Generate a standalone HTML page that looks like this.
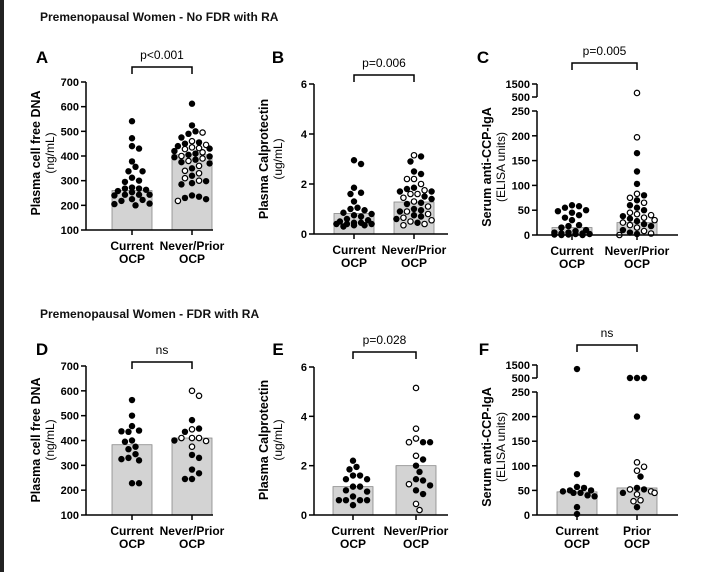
<!DOCTYPE html>
<html><head><meta charset="utf-8"><style>
html,body{margin:0;padding:0;background:#fff;}
svg{display:block;font-family:"Liberation Sans",Arial,sans-serif;}
</style></head><body>
<svg id="fig" width="705" height="572" viewBox="0 0 705 572">
<rect x="0" y="0" width="705" height="572" fill="#fff"/>
<rect x="0" y="0" width="4" height="572" fill="#222"/>
<text x="40" y="21" font-size="12" font-weight="bold" fill="#111">Premenopausal Women - No FDR with RA</text>
<text x="40" y="318" font-size="12" font-weight="bold" fill="#111">Premenopausal Women - FDR with RA</text>
</svg>
<script>
// ---- data ----
const catsA = ["Current|OCP","Never/Prior|OCP"];
const catsF = ["Current|OCP","Prior|OCP"];
const ticksDNA = [100,200,300,400,500,600,700];
const ticksCal = [0,2,4,6];
const ticksCCP = [0,50,100,150,200,250];
const ticksCCPTop = [500,1500];

const aCurBar = 260, aNevBar = 405;
const aCur = [541,472,440,430,378,356,338,338,312,300,295,272,268,268,263,258,253,243,243,243,240,225,222,218,207,205,200];
const aNev = [612,524,500,490,495,475,460,455,450,445,440,435,432,430,428,420,415,410,405,400,398,395,390,385,380,375,370,360,350,340,330,320,310,300,298,290,285,240,235,230,225,218];
const aNevOpen = [0,0,0,0,1,0,1,0,0,1,0,1,1,0,1,0,1,0,0,1,0,0,1,0,1,0,0,1,0,1,1,0,1,1,0,0,0,0,0,0,0,1];

const bCurBar = 0.82, bNevBar = 1.28;
const bCur = [2.95,2.8,1.85,1.65,1.6,1.3,1.05,1.0,0.95,0.85,0.8,0.75,0.7,0.6,0.55,0.5,0.45,0.45,0.4,0.4,0.4,0.35,0.35,0.3];
const bNev = [3.15,3.1,2.9,2.5,2.4,2.2,2.2,2.0,1.85,1.8,1.75,1.7,1.7,1.6,1.6,1.5,1.45,1.4,1.3,1.25,1.2,1.1,1.0,0.95,0.9,0.9,0.8,0.75,0.7,0.65,0.6,0.55,0.5,0.45,0.4,0.35];
const bNevOpen = [1,0,0,0,0,1,1,1,0,0,1,0,0,1,1,0,1,0,1,0,0,1,0,0,1,0,1,0,0,1,0,1,1,0,1,1];

const cCurBar = 15, cNevBar = 25;
const cCur = [60,58,55,50,48,45,40,35,30,20,18,15,10,8,5,5,3,3,2,2,1,1,0,0];
const cNev = [810,197,165,128,103,83,80,75,70,65,60,55,50,45,42,40,38,35,33,30,28,25,22,20,18,15,10,8,5,3,2,0];
const cNevOpen = [1,1,0,0,0,1,0,1,0,1,0,0,0,1,1,1,0,1,0,1,0,1,0,1,0,1,0,1,0,1,0,1];

const dCurBar = 383, dNevBar = 410;
const dCur = [563,500,458,440,435,437,400,375,395,365,345,330,320,325,228,228];
const dNev = [600,580,482,445,448,435,410,410,410,398,400,375,342,330,283,268,245,245];
const dNevOpen = [1,1,0,1,0,0,1,1,1,1,0,1,0,0,0,0,0,0];

const eCurBar = 1.15, eNevBar = 2.0;
const eCur = [2.2,1.95,1.85,1.6,1.6,1.45,1.45,1.15,1.15,1.0,0.95,0.75,0.6,0.6,0.6,0.6,0.4];
const eNev = [5.15,3.5,3.1,2.95,2.95,2.95,2.4,2.25,2.0,1.75,1.45,1.4,1.25,1.2,1.0,0.85,0.45,0.2];
const eNevOpen = [1,1,1,0,1,0,1,0,0,0,0,0,1,0,0,0,1,1];

const fCurBar = 47, fNevBar = 55;
const fCur = [1190,83,57,55,50,50,48,45,45,40,38,16,2];
const fNev = [500,500,500,200,107,98,90,78,55,52,52,48,45,42,45,30,28,16];
const fNevOpen = [0,0,0,0,1,1,1,0,0,0,1,1,0,1,1,1,1,0];

// ---- drawing ----
const svg = document.getElementById('fig');
const NS = 'http://www.w3.org/2000/svg';
function mk(tag, attrs, parent){const e=document.createElementNS(NS,tag);for(const k in attrs)e.setAttribute(k,attrs[k]);(parent||svg).appendChild(e);return e;}

function linScale(d0,d1,r0,r1){return v=>r0+(v-d0)*(r1-r0)/(d1-d0);}
function brokenScale(y0,y250,y500,y1500){return v=>{if(v<=250)return y0+(v)*(y250-y0)/250;return y500+(v-500)*(y1500-y500)/1000;};}

function swarm(vals, yf, cx, r){
  const placed=[];const xs=[];
  const step=r*1.1, maxK=Math.floor(18/step);
  vals.forEach((v,i)=>{
    const y=yf(v);
    let best=cx,bestOv=Infinity,found=false;
    for(let k=0;k<=maxK&&!found;k++){
      const cand=k===0?[0]:[k,-k];
      for(const o of cand){
        const xx=cx+o*step;
        let ov=0;
        placed.forEach(p=>{const d=Math.hypot(p[0]-xx,p[1]-y);if(d<2*r)ov+=2*r-d;});
        if(ov===0){best=xx;found=true;break;}
        if(ov<bestOv){bestOv=ov;best=xx;}
      }
    }
    placed.push([best,y]);xs[i]=best;
  });
  return xs;
}

function panel(p){
  const g=mk('g',{});
  
  
  const y=p.y;
  [[p.c1,p.bar1],[p.c2,p.bar2]].forEach((b,i)=>{
    const top=y(b[1]);
    const r=mk('rect',{x:b[0]-20,y:top,width:40,height:p.base-top,fill:'#d3d3d3',stroke:'#888','stroke-width':0.8},g);
    
    
  });
  [[p.c1,p.d1,null],[p.c2,p.d2,p.open2]].forEach((s,si)=>{
    const xs=swarm(s[1],y,s[0],3.2);
    s[1].forEach((v,i)=>{
      const open=s[2]&&s[2][i];
      const c=mk('circle',{cx:xs[i],cy:y(v),r:open?2.7:3.2,fill:open?'#fff':'#000',stroke:'#000','stroke-width':open?1.2:0},g);
      
      
    });
  });
  const ax=mk('g',{stroke:'#000','stroke-width':1.5,fill:'none'},g);
  
  
  mk('line',{x1:p.ax,y1:p.base,x2:p.xEnd,y2:p.base},ax);
  [p.c1,p.c2].forEach(cx=>mk('line',{x1:cx,y1:p.base,x2:cx,y2:p.base+5},ax));
  if(p.broken){
    mk('line',{x1:p.ax,y1:p.base,x2:p.ax,y2:y(250)},ax);
    mk('line',{x1:p.ax,y1:y(500),x2:p.ax,y2:y(1500)},ax);
  } else {
    mk('line',{x1:p.ax,y1:p.base,x2:p.ax,y2:y(p.ticks[p.ticks.length-1])},ax);
  }
  const allT=p.broken?p.ticks.concat(ticksCCPTop):p.ticks;
  allT.forEach(t=>{
    const ty=y(t);
    mk('line',{x1:p.ax-5,y1:ty,x2:p.ax,y2:ty},ax);
    const tx=mk('text',{x:p.ax-7,y:ty+4,'font-size':11,'font-weight':'bold','text-anchor':'end',fill:'#000'},g);
    tx.textContent=t;
    
    
  });
  [[p.c1,p.cats[0]],[p.c2,p.cats[1]]].forEach(c=>{
    c[1].split('|').forEach((ln,li)=>{
      const tx=mk('text',{x:c[0],y:p.base+20+li*13,'font-size':12,'font-weight':'bold','text-anchor':'middle',fill:'#000'},g);
      tx.textContent=ln;
      
      
    });
  });
  const cy=p.titleY;
  const t1=mk('text',{x:0,y:0,'font-size':12.5,'font-weight':'bold','text-anchor':'middle',fill:'#000',transform:`translate(${p.ax-46},${cy}) rotate(-90)`},g);
  t1.textContent=p.title1;
  
  
  const t2=mk('text',{x:0,y:0,'font-size':12,'text-anchor':'middle',fill:'#000',transform:`translate(${p.ax-32},${cy}) rotate(-90)`},g);
  t2.textContent=p.title2;
  
  
  const br=mk('path',{d:`M${p.c1},${p.brY+7} V${p.brY} H${p.c2} V${p.brY+7}`,stroke:'#000','stroke-width':1.5,fill:'none'},g);
  
  
  const pt=mk('text',{x:(p.c1+p.c2)/2,y:p.brY-8,'font-size':12,'text-anchor':'middle',fill:'#000'},g);
  pt.textContent=p.pval;
  
  
  const lt=mk('text',{x:p.lx,y:p.ly,'font-size':17,'font-weight':'bold','text-anchor':'middle',fill:'#000'},g);
  lt.textContent=p.letter;
  
  
}

panel({letter:'A',lx:42,ly:63,ax:86,xEnd:213,base:230,c1:132,c2:192,y:linScale(100,700,230,82),ticks:ticksDNA,
  bar1:aCurBar,bar2:aNevBar,d1:aCur,d2:aNev,open2:aNevOpen,cats:catsA,title1:'Plasma cell free DNA',title2:'(ng/mL)',titleY:153,brY:67,pval:'p<0.001'});
panel({letter:'B',lx:278,ly:63,ax:314,xEnd:448,base:234,c1:354,c2:414,y:linScale(0,6,234,84),ticks:ticksCal,
  bar1:bCurBar,bar2:bNevBar,d1:bCur,d2:bNev,open2:bNevOpen,cats:catsA,title1:'Plasma Calprotectin',title2:'(ug/mL)',titleY:159,brY:75,pval:'p=0.006'});
panel({letter:'C',lx:483,ly:63,ax:537,xEnd:678,base:235,c1:572,c2:637,y:brokenScale(235,111,97,84),ticks:ticksCCP,broken:true,
  bar1:cCurBar,bar2:cNevBar,d1:cCur,d2:cNev,open2:cNevOpen,cats:catsA,title1:'Serum anti-CCP-IgA',title2:'(ELISA units)',titleY:167,brY:63,pval:'p=0.005'});
panel({letter:'D',lx:42,ly:355,ax:86,xEnd:213,base:515,c1:132,c2:192,y:linScale(100,700,515,366),ticks:ticksDNA,
  bar1:dCurBar,bar2:dNevBar,d1:dCur,d2:dNev,open2:dNevOpen,cats:catsA,title1:'Plasma cell free DNA',title2:'(ng/mL)',titleY:440,brY:362,pval:'ns'});
panel({letter:'E',lx:278,ly:355,ax:314,xEnd:448,base:515,c1:353,c2:416,y:linScale(0,6,515,367),ticks:ticksCal,
  bar1:eCurBar,bar2:eNevBar,d1:eCur,d2:eNev,open2:eNevOpen,cats:catsA,title1:'Plasma Calprotectin',title2:'(ug/mL)',titleY:440,brY:352,pval:'p=0.028'});
panel({letter:'F',lx:484,ly:355,ax:537,xEnd:678,base:515,c1:577,c2:637,y:brokenScale(515,392,378,365),ticks:ticksCCP,broken:true,
  bar1:fCurBar,bar2:fNevBar,d1:fCur,d2:fNev,open2:fNevOpen,cats:catsF,title1:'Serum anti-CCP-IgA',title2:'(ELISA units)',titleY:447,brY:345,pval:'ns'});
</script>
</body></html>
